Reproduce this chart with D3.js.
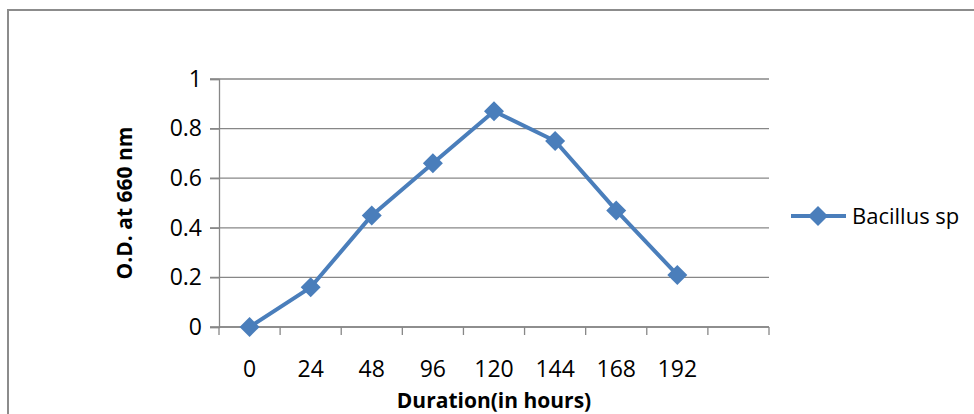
<!DOCTYPE html>
<html>
<head>
<meta charset="utf-8">
<script src="https://cdn.jsdelivr.net/npm/d3@7"></script>
<style>
  body { margin: 0; background: #fff; }
  text { font-family: "Open Sans", "Noto Sans", sans-serif; fill: #000; }
</style>
</head>
<body>
<div id="chart"></div>
<script>
// Data
const hours = ["0", "24", "48", "96", "120", "144", "168", "192"];
const od = [0, 0.16, 0.45, 0.66, 0.87, 0.75, 0.47, 0.21];
const yTicks = [0, 0.2, 0.4, 0.6, 0.8, 1];
const seriesName = "Bacillus sp";

const W = 974, H = 414;
const plot = { left: 219, right: 769, top: 79, bottom: 327 };
const lineColor = "#4a7ebb";
const gridColor = "#878787";

const svg = d3.select("#chart").append("svg")
  .attr("width", W)
  .attr("height", H);

// outer chart border (runs off the right and bottom of the picture)
svg.append("rect")
  .attr("x", 8).attr("y", 10)
  .attr("width", W + 20).attr("height", H + 20)
  .attr("fill", "none")
  .attr("stroke", "#8c8c8c")
  .attr("stroke-width", 2);

// the category axis keeps one empty slot after 192
const x = d3.scaleBand()
  .domain(hours.concat(["_blank"]))
  .range([plot.left, plot.right]);

const y = d3.scaleLinear()
  .domain([0, 1])
  .range([plot.bottom, plot.top]);

// horizontal gridlines
svg.append("g")
  .selectAll("line")
  .data(yTicks)
  .enter()
  .append("line")
  .attr("x1", plot.left - 9)
  .attr("x2", plot.right)
  .attr("y1", d => y(d))
  .attr("y2", d => y(d))
  .attr("stroke", gridColor)
  .attr("stroke-width", 1.3);

// y axis
const yAxis = svg.append("g")
  .attr("transform", `translate(${plot.left},0)`)
  .call(d3.axisLeft(y).tickValues(yTicks).tickFormat(d => String(d)).tickSize(9).tickPadding(8));
yAxis.select(".domain").attr("stroke", gridColor).attr("stroke-width", 1.3);
yAxis.selectAll(".tick line").attr("stroke", gridColor).attr("stroke-width", 1.3);
yAxis.selectAll(".tick text")
  .attr("font-size", 23)
  .attr("font-family", "'Open Sans', sans-serif")
  .attr("fill", "#000");

// x axis: ticks on the band edges, labels in the band centres
const xAxis = svg.append("g")
  .attr("transform", `translate(0,${plot.bottom})`);
xAxis.append("line")
  .attr("x1", plot.left).attr("x2", plot.right)
  .attr("stroke", gridColor).attr("stroke-width", 1.3);
xAxis.selectAll("line.tick")
  .data(x.domain().map(d => x(d)).concat([plot.right]))
  .enter()
  .append("line")
  .attr("class", "tick")
  .attr("x1", d => d).attr("x2", d => d)
  .attr("y1", 0).attr("y2", 8)
  .attr("stroke", gridColor).attr("stroke-width", 1.3);
xAxis.selectAll("text")
  .data(hours)
  .enter()
  .append("text")
  .attr("x", d => x(d) + x.bandwidth() / 2)
  .attr("y", 50)
  .attr("text-anchor", "middle")
  .attr("font-size", 23)
  .text(d => d);

// axis titles
svg.append("text")
  .attr("x", 494).attr("y", 408)
  .attr("text-anchor", "middle")
  .attr("font-size", 21)
  .attr("font-weight", "bold")
  .text("Duration(in hours)");

svg.append("text")
  .attr("transform", "translate(132,203) rotate(-90)")
  .attr("text-anchor", "middle")
  .attr("font-size", 21)
  .attr("font-weight", "bold")
  .text("O.D. at 660 nm");

// series line and diamond markers
const cx = d => x(d) + x.bandwidth() / 2;
const line = d3.line()
  .x((d, i) => cx(hours[i]))
  .y(d => y(d));

svg.append("path")
  .datum(od)
  .attr("d", line)
  .attr("fill", "none")
  .attr("stroke", lineColor)
  .attr("stroke-width", 4)
  .attr("stroke-linejoin", "round");

const diamond = r => `M0,${-r}L${r},0L0,${r}L${-r},0Z`;

svg.append("g")
  .selectAll("path")
  .data(od)
  .enter()
  .append("path")
  .attr("transform", (d, i) => `translate(${cx(hours[i])},${y(d)})`)
  .attr("d", diamond(10))
  .attr("fill", lineColor);

// legend
const legend = svg.append("g").attr("transform", "translate(791,216)");
legend.append("line")
  .attr("x1", 0).attr("x2", 55)
  .attr("stroke", lineColor).attr("stroke-width", 4);
legend.append("path")
  .attr("transform", "translate(27,0)")
  .attr("d", diamond(10))
  .attr("fill", lineColor);
legend.append("text")
  .attr("x", 61).attr("y", 8)
  .attr("font-size", 22)
  .text(seriesName);
</script>
</body>
</html>
